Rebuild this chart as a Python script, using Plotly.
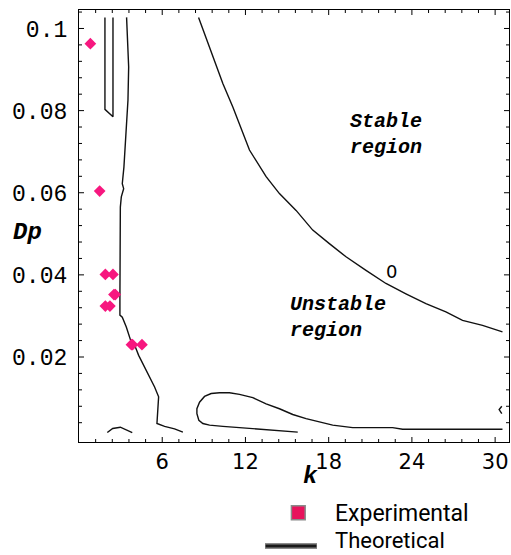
import numpy as np
import plotly.graph_objects as go

# ---- measured stability points (k, Dp) ----
exp_k = [0.82, 1.49, 1.90, 2.45, 2.52, 2.62, 1.90, 2.23, 3.78, 3.86, 4.54]
exp_dp = [0.0963, 0.0604, 0.0401, 0.0401, 0.0352, 0.0352, 0.0324, 0.0324, 0.0230, 0.0230, 0.0230]

# ---- zero-level contour of the stability determinant ----
loop_k = [1.87, 1.87, 2.45, 2.45]
loop_dp = [0.1027, 0.0803, 0.0785, 0.1027]

main_k = [3.43, 3.51, 3.58, 3.53, 3.36, 3.24, 3.12, 3.22, 3.05, 2.98, 2.95, 2.95,
          3.12, 3.41, 3.72, 4.01, 4.30, 4.61, 5.21, 5.45, 5.74, 5.70, 5.62, 6.17, 6.89, 7.49]
main_dp = [0.1027, 0.0972, 0.0906, 0.0825, 0.0720, 0.0663, 0.0622, 0.0610, 0.0590, 0.0565, 0.0346, 0.0302,
           0.0297, 0.0273, 0.0241, 0.0229, 0.0204, 0.0184, 0.0143, 0.0127, 0.0103, 0.0070, 0.0038, 0.0031, 0.0025, 0.0017]

arc_k = [2.04, 2.43, 2.98, 3.36, 3.84]
arc_dp = [0.0016, 0.0026, 0.0029, 0.0024, 0.0016]

tongue_k = [15.77, 13.97, 12.53, 11.57, 10.37, 9.41, 8.93, 8.64, 8.50, 8.50, 8.69, 9.05, 9.53,
            10.13, 10.85, 11.57, 12.53, 13.49, 14.45, 15.41, 16.37, 17.33, 18.29, 19.73, 22.61, 23.33, 30.53]
tongue_dp = [0.0017, 0.0021, 0.0026, 0.0028, 0.0031, 0.0034, 0.0038, 0.0046, 0.0062, 0.0074, 0.0090, 0.0104, 0.0111,
             0.0113, 0.0113, 0.0109, 0.0101, 0.0086, 0.0074, 0.0060, 0.0050, 0.0042, 0.0034, 0.0028, 0.0028, 0.0024, 0.0024]

notch_k = [30.48, 30.29, 30.48]
notch_dp = [0.0080, 0.0072, 0.0062]

outer_k = [8.62, 9.65, 10.37, 11.09, 12.29, 13.49, 14.45, 15.65, 16.85, 18.05, 19.25, 20.69,
           22.13, 23.57, 25.01, 26.45, 27.65, 29.09, 30.53]
outer_dp = [0.1027, 0.0931, 0.0866, 0.0809, 0.0704, 0.0639, 0.0598, 0.0557, 0.0509, 0.0476, 0.0444, 0.0411,
            0.0379, 0.0354, 0.0330, 0.0310, 0.0289, 0.0277, 0.0261]

x_ticks = [6, 12, 18, 24, 30]
y_ticks = [0.02, 0.04, 0.06, 0.08, 0.1]
y_tick_text = ["0.02", "0.04", "0.06", "0.08", "0.1"]
x_minor = [round(1.2 * i, 2) for i in range(1, 26) if i % 5 != 0]
y_minor = [round(0.004 * i, 3) for i in range(1, 27) if i % 5 != 0]

MONO = "Liberation Mono"
SANS = "DejaVu Sans"
PINK = "#f7177f"

X_RANGE = [0, 31]
Y_RANGE = [-0.0007, 0.1045]
PLOT_W, PLOT_H = 430, 432

fig = go.Figure()

for kk, dd in [(loop_k, loop_dp), (main_k, main_dp), (arc_k, arc_dp),
               (tongue_k, tongue_dp), (notch_k, notch_dp), (outer_k, outer_dp)]:
    fig.add_trace(go.Scatter(x=kk, y=dd, mode="lines",
                             line=dict(color="#111111", width=1.4),
                             showlegend=False, hoverinfo="skip"))

fig.add_trace(go.Scatter(x=exp_k, y=exp_dp, mode="markers",
                         marker=dict(symbol="diamond", size=9, color=PINK, line=dict(width=0)),
                         showlegend=False))

axis_common = dict(showgrid=False, zeroline=False, showline=True, linecolor="black",
                   linewidth=1.3, mirror=True, ticks="")

fig.update_xaxes(**axis_common, range=X_RANGE, tickmode="array", tickvals=x_ticks,
                 tickfont=dict(family=SANS, size=21, color="black"), ticklabelstandoff=1)
fig.update_yaxes(**axis_common, range=Y_RANGE, tickmode="array", tickvals=y_ticks,
                 ticktext=y_tick_text,
                 tickfont=dict(family=MONO, size=23, color="black"), ticklabelstandoff=6)

# inward frame ticks on all four sides (major and minor)
shapes = []
tick_line = dict(color="black", width=1)
for vals, length in [(x_ticks, 5), (x_minor, 3)]:
    f = length / PLOT_H
    for v in vals:
        shapes.append(dict(type="line", xref="x", yref="paper", x0=v, x1=v, y0=0, y1=f, line=tick_line))
        shapes.append(dict(type="line", xref="x", yref="paper", x0=v, x1=v, y0=1, y1=1 - f, line=tick_line))
for vals, length in [(y_ticks, 5), (y_minor, 3)]:
    f = length / PLOT_W
    for v in vals:
        shapes.append(dict(type="line", xref="paper", yref="y", x0=0, x1=f, y0=v, y1=v, line=tick_line))
        shapes.append(dict(type="line", xref="paper", yref="y", x0=1, x1=1 - f, y0=v, y1=v, line=tick_line))

# legend swatches
shapes += [
    dict(type="rect", xref="paper", yref="paper", x0=0.494, x1=0.526, y0=-0.1475, y1=-0.1800,
         fillcolor="#e8125c", line=dict(color="#8a8a8a", width=1.5)),
    dict(type="line", xref="paper", yref="paper", x0=0.4326, x1=0.5535, y0=-0.2407, y1=-0.2407,
         line=dict(color="#8c8c8c", width=6)),
    dict(type="line", xref="paper", yref="paper", x0=0.4340, x1=0.5521, y0=-0.2407, y1=-0.2407,
         line=dict(color="#1a1a1a", width=3)),
]

ann = []
# axis titles
ann.append(dict(text="<b><i>Dp</i></b>", xref="paper", yref="paper", x=-0.12, y=0.486,
                xanchor="center", yanchor="middle",
                showarrow=False, font=dict(family=MONO, size=24, color="black")))
ann.append(dict(text="<b><i>k</i></b>", xref="paper", yref="paper", x=0.5395, y=-0.079,
                xanchor="center", yanchor="middle",
                showarrow=False, font=dict(family=MONO, size=24, color="black")))
# region labels
ann.append(dict(text="<b><i>Stable<br>region</i></b>", x=19.37, y=0.0741, xanchor="left",
                yanchor="middle", align="left", showarrow=False,
                font=dict(family=MONO, size=20, color="black")))
ann.append(dict(text="<b><i>Unstable<br>region</i></b>", x=15.05, y=0.0295, xanchor="left",
                yanchor="middle", align="left", showarrow=False,
                font=dict(family=MONO, size=20, color="black")))
# contour level label
ann.append(dict(text="0", x=22.55, y=0.0407, xanchor="center", yanchor="middle", showarrow=False,
                font=dict(family=SANS, size=18, color="black")))
# legend entries
ann.append(dict(text="Experimental", xref="paper", yref="paper", x=0.5907, y=-0.165,
                xanchor="left", yanchor="middle", showarrow=False,
                font=dict(family="Roboto", size=23, color="black")))
ann.append(dict(text="Theoretical", xref="paper", yref="paper", x=0.5907, y=-0.228,
                xanchor="left", yanchor="middle", showarrow=False,
                font=dict(family="Roboto", size=22, color="black")))

fig.update_layout(width=511, height=555, margin=dict(l=79, r=2, t=10, b=113),
                  paper_bgcolor="white", plot_bgcolor="white",
                  annotations=ann, shapes=shapes, showlegend=False)

fig.write_html("out.html")
